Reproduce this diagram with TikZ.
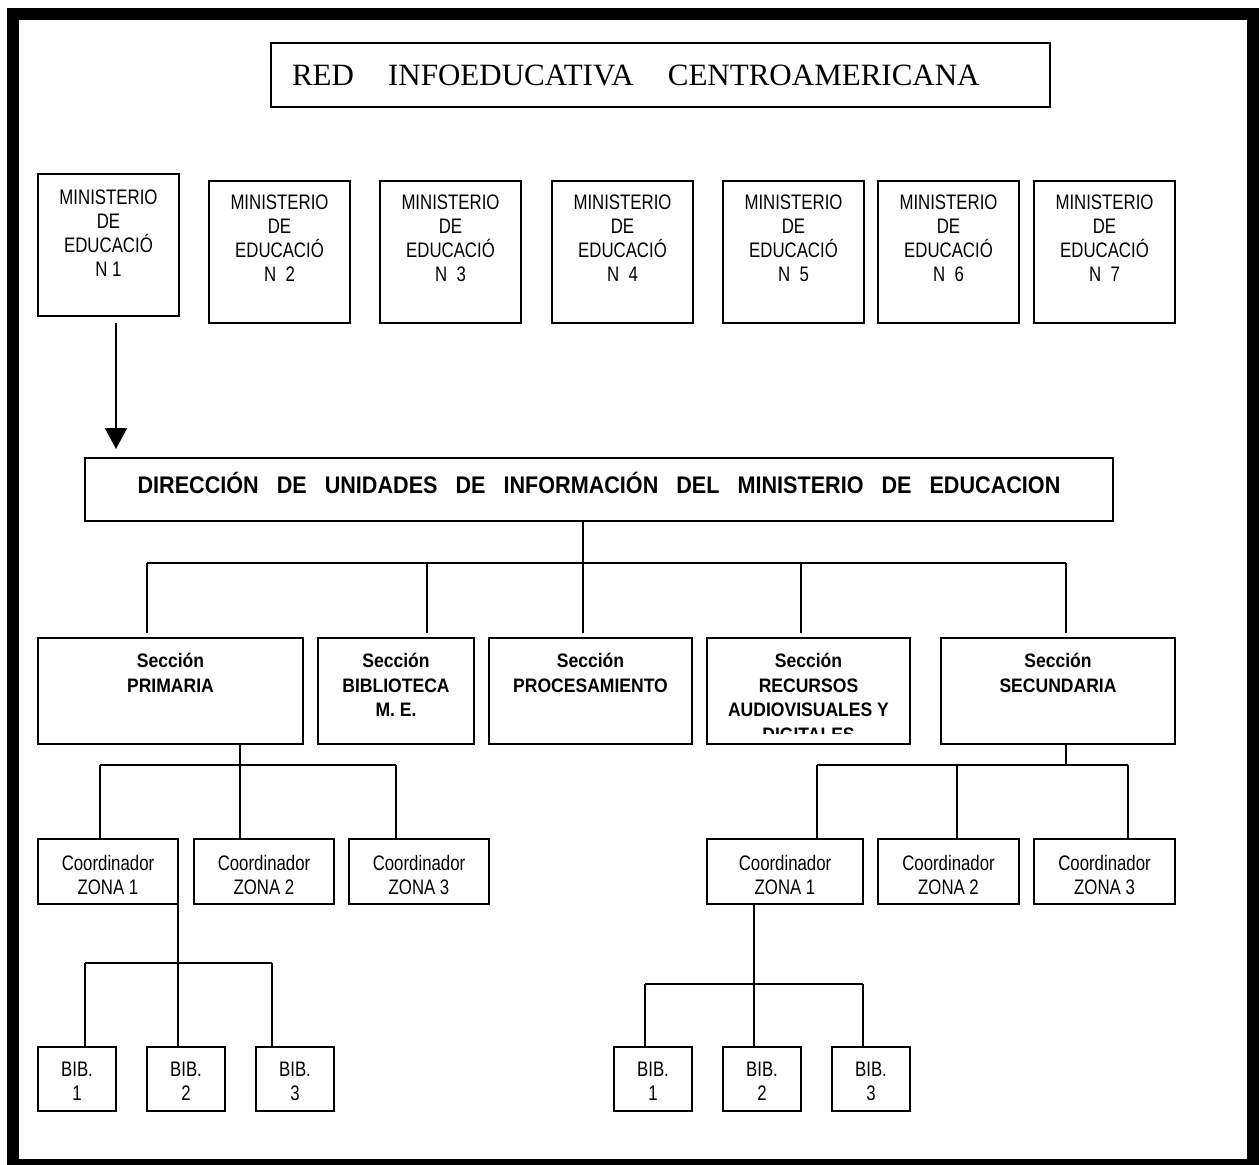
\documentclass[tikz,border=0pt]{standalone}
\usepackage{fontspec}
\setmainfont{Liberation Serif}
\newfontfamily\narrowsans[FakeStretch=0.8]{Liberation Sans}
\newfontfamily\condsans[FakeStretch=0.9]{Liberation Sans}
\usetikzlibrary{arrows.meta, positioning, calc}

\begin{document}
\begin{tikzpicture}[
    x=1pt, y=-1pt,
    box/.style={draw, line width=1.8pt, anchor=north west, inner sep=0pt, outer sep=0pt},
    mintext/.style={anchor=north, align=center, inner sep=0pt, font=\narrowsans\fontsize{21}{24}\selectfont},
    sectext/.style={anchor=north, align=center, inner sep=0pt, font=\condsans\bfseries\fontsize{19.5}{24.5}\selectfont},
    link/.style={line width=1.8pt},
    flecha/.style={line width=1.8pt, -{Triangle[width=22pt, length=21pt]}}
]
    \useasboundingbox (0,0) rectangle (1260,1164);
    % Frame
    \draw[line width=12pt] (13,14) rectangle (1253,1165);

    % Title
    \node[box, minimum width=779pt, minimum height=64pt, text width=737pt, inner xsep=21pt,
        align=left, font=\fontsize{31}{36}\selectfont] (red) at (271,43)
        {RED\hspace{1.1em}INFOEDUCATIVA\hspace{1.1em}CENTROAMERICANA};

    % Ministerios
    \node[box, minimum width=141pt, minimum height=142pt] (m1) at (38,174) {};
    \node[mintext] (mt1) at ($(m1.north)+(0,16)$) {MINISTERIO\\DE\\EDUCACIÓ\\N 1};
    \foreach \i/\x in {2/209, 3/380, 4/552, 5/723, 6/878, 7/1034} {
        \node[box, minimum width=141pt, minimum height=142pt] (m\i) at (\x,181) {};
        \node[mintext] (mt\i) at ($(m\i.north)+(0,14)$) {MINISTERIO\\DE\\EDUCACIÓ\\N\ \ \i};
    }

    % Direccion
    \node[box, minimum width=1028pt, minimum height=63pt, text height=7pt, text depth=0pt,
        font=\condsans\bfseries\fontsize{24}{28}\selectfont] (dir) at (85,458)
        {DIRECCIÓN\hspace{18pt}DE\hspace{18pt}UNIDADES\hspace{18pt}DE\hspace{18pt}INFORMACIÓN\hspace{18pt}DEL\hspace{18pt}MINISTERIO\hspace{18pt}DE\hspace{18pt}EDUCACION};
    \draw[flecha] ([xshift=7.5pt, yshift=-7pt]m1.south) -- ([xshift=31pt, yshift=9pt]dir.north west);

    % Secciones
    \node[box, minimum width=265pt, minimum height=106pt] (prim) at (38,638) {};
    \node[box, minimum width=156pt, minimum height=106pt] (bibl) at (318,638) {};
    \node[box, minimum width=203pt, minimum height=106pt] (proc) at (489,638) {};
    \node[box, minimum width=203pt, minimum height=106pt] (recu) at (707,638) {};
    \node[box, minimum width=234pt, minimum height=106pt] (secu) at (941,638) {};
    \node[sectext] (primt) at ($(prim.north)+(0,15)$) {Sección\\PRIMARIA};
    \node[sectext] (biblt) at ($(bibl.north)+(0,15)$) {Sección\\BIBLIOTECA\\M. E.};
    \node[sectext] (proct) at ($(proc.north)+(0,15)$) {Sección\\PROCESAMIENTO};
    \node[sectext] (secut) at ($(secu.north)+(0,15)$) {Sección\\SECUNDARIA};
    \begin{scope}
        \clip (recu.north west) rectangle ($(recu.south east)+(0,-11)$);
        \node[sectext] (recut) at ($(recu.north)+(0,15)$) {Sección\\RECURSOS\\AUDIOVISUALES Y\\DIGITALES};
    \end{scope}

    % Coordinadores
    \foreach \i/\x/\w in {1/38/140, 2/194/140, 3/349/140} {
        \node[box, minimum width=\w pt, minimum height=65pt] (zi\i) at (\x,839) {};
        \node[mintext] (zit\i) at ($(zi\i.north)+(0,16)$) {Coordinador\\ZONA \i};
    }
    \foreach \i/\x/\w in {1/707/156, 2/878/141, 3/1034/141} {
        \node[box, minimum width=\w pt, minimum height=65pt] (zd\i) at (\x,839) {};
        \node[mintext] (zdt\i) at ($(zd\i.north)+(0,16)$) {Coordinador\\ZONA \i};
    }

    % Bibliotecas
    \foreach \i/\x in {1/38, 2/147, 3/256} {
        \node[box, minimum width=78pt, minimum height=64pt] (bi\i) at (\x,1047) {};
        \node[mintext] (bit\i) at ($(bi\i.north)+(0,15)$) {BIB.\\\i};
    }
    \foreach \i/\x in {1/614, 2/723, 3/832} {
        \node[box, minimum width=78pt, minimum height=64pt] (bd\i) at (\x,1047) {};
        \node[mintext] (bdt\i) at ($(bd\i.north)+(0,15)$) {BIB.\\\i};
    }

    % Direccion -> secciones
    \coordinate (sp1) at (147,563);
    \coordinate (sp2) at (427,563);
    \coordinate (sp3) at (583,563);
    \coordinate (sp4) at (801,563);
    \coordinate (sp5) at (1066,563);
    \draw[link] (sp3 |- dir.south) -- (sp3);
    \draw[link] (sp1) -- (sp5);
    \foreach \c/\n in {sp1/prim, sp2/bibl, sp3/proc, sp4/recu, sp5/secu}
        \draw[link] (\c) -- ($(\c |- \n.north)+(0,-5)$);

    % Primaria -> coordinadores
    \coordinate (zp1) at (100,765);
    \coordinate (zp2) at (240,765);
    \coordinate (zp3) at (396,765);
    \draw[link] (zp2 |- prim.south) -- (zp2);
    \draw[link] (zp1) -- (zp3);
    \foreach \c/\n in {zp1/zi1, zp2/zi2, zp3/zi3}
        \draw[link] (\c) -- (\c |- \n.north);

    % Secundaria -> coordinadores
    \coordinate (zq0) at (1066,765);
    \coordinate (zq1) at (817,765);
    \coordinate (zq2) at (957,765);
    \coordinate (zq3) at (1128,765);
    \draw[link] (zq0 |- secu.south) -- (zq0);
    \draw[link] (zq1) -- (zq3);
    \foreach \c/\n in {zq1/zd1, zq2/zd2, zq3/zd3}
        \draw[link] (\c) -- (\c |- \n.north);

    % Zona 1 -> bibliotecas
    \coordinate (bp1) at (85,963);
    \coordinate (bp2) at (178,963);
    \coordinate (bp3) at (272,963);
    \draw[link] (zi1.south east) -- (bp2);
    \draw[link] (bp1) -- (bp3);
    \foreach \c/\n in {bp1/bi1, bp2/bi2, bp3/bi3}
        \draw[link] (\c) -- (\c |- \n.north);

    \coordinate (bq1) at (645,984);
    \coordinate (bq2) at (754,984);
    \coordinate (bq3) at (863,984);
    \draw[link] (bq2 |- zd1.south) -- (bq2);
    \draw[link] (bq1) -- (bq3);
    \foreach \c/\n in {bq1/bd1, bq2/bd2, bq3/bd3}
        \draw[link] (\c) -- (\c |- \n.north);
\end{tikzpicture}
\end{document}
